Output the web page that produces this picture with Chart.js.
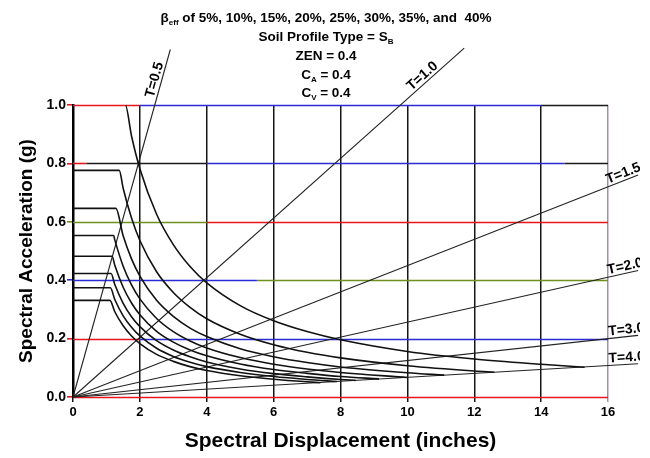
<!DOCTYPE html>
<html>
<head>
<meta charset="utf-8">
<script src="https://cdn.jsdelivr.net/npm/chart.js@4.4.1/dist/chart.umd.min.js"></script>
<style>
  html, body { margin: 0; padding: 0; background: #fff; }
</style>
</head>
<body>
<canvas id="myChart" width="650" height="458"></canvas>
<script>
// demand spectra (ADRS), one curve per effective damping
const dampingLevels = ['5%', '10%', '15%', '20%', '25%', '30%', '35%', '40%'];
const plateauSa = [1.0, 0.776, 0.646, 0.553, 0.482, 0.423, 0.374, 0.331];
const cornerSd = [1.565, 1.383, 1.282, 1.216, 1.170, 1.139, 1.117, 1.105];
const sdGrid = [1.25, 1.5, 1.75, 2, 2.5, 3, 3.5, 4, 5, 6, 7, 8, 10, 12, 14];
const demandSa = [
    [null, null, 0.894, 0.782, 0.626, 0.522, 0.447, 0.391, 0.313, 0.261, 0.224, 0.196, 0.156, 0.130, 0.112],
    [null, 0.715, 0.613, 0.536, 0.429, 0.358, 0.307, 0.268, 0.215, 0.179, 0.153, 0.134, 0.107, 0.089, null],
    [null, 0.552, 0.473, 0.414, 0.331, 0.276, 0.236, 0.207, 0.165, 0.138, 0.118, 0.103, 0.083, null, null],
    [0.538, 0.448, 0.384, 0.336, 0.269, 0.224, 0.192, 0.168, 0.135, 0.112, 0.096, 0.084, null, null, null],
    [0.451, 0.376, 0.322, 0.282, 0.225, 0.188, 0.161, 0.141, 0.113, 0.094, 0.081, 0.070, null, null, null],
    [0.385, 0.321, 0.275, 0.241, 0.193, 0.161, 0.138, 0.120, 0.096, 0.080, 0.069, 0.060, null, null, null],
    [0.334, 0.278, 0.239, 0.209, 0.167, 0.139, 0.119, 0.104, 0.084, 0.070, 0.060, null, null, null, null],
    [0.292, 0.244, 0.209, 0.183, 0.146, 0.122, 0.104, 0.091, 0.073, 0.061, 0.052, null, null, null, null]
];
const endSd = [15.3, 12.6, 11.1, 10.0, 9.15, 8.45, 7.9, 7.4];
const endSa = [0.102, 0.085, 0.075, 0.067, 0.062, 0.057, 0.053, 0.049];

// constant period lines through the origin
const periods = ['T=0.5', 'T=1.0', 'T=1.5', 'T=2.0', 'T=3.0', 'T=4.0'];
const periodEndSd = [2.91, 11.7, 16.9, 16.9, 16.9, 16.9];
const periodEndSa = [1.19, 1.195, 0.76, 0.433, 0.211, 0.114];

const xTicks = [0, 2, 4, 6, 8, 10, 12, 14, 16];
const yTicks = ['0.0', '0.2', '0.4', '0.6', '0.8', '1.0'];

const FONT = "'Liberation Sans', Arial, Helvetica, sans-serif";
Chart.defaults.font.family = FONT;
Chart.defaults.color = '#000';

const RED = '#e8151d', BLUE = '#2b2bd6', OLIVE = '#6f8f1e', DARK = '#1a1a1a';
// coloured horizontal grid lines of the scan: [Sa, fromSd, toSd, colour]
const hGrid = [
    [1.0, 0, 2, RED], [1.0, 2, 14, BLUE], [1.0, 14, 16, DARK],
    [0.8, 0, 0.4, RED], [0.8, 0.4, 4, DARK], [0.8, 4, 14.7, BLUE], [0.8, 14.7, 16, DARK],
    [0.6, 0, 4, OLIVE], [0.6, 4, 16, RED],
    [0.4, 0, 5.5, BLUE], [0.4, 5.5, 16, OLIVE],
    [0.2, 0, 2, RED], [0.2, 2, 16, BLUE],
    [0.0, 0, 16, RED]
];
const yTickColors = [RED, RED, BLUE, OLIVE, RED, RED];

const datasets = [];
for (let i = 0; i < dampingLevels.length; i++) {
    const pts = [{ x: 0, y: plateauSa[i] }, { x: cornerSd[i], y: plateauSa[i] }];
    sdGrid.forEach((sd, j) => {
        if (demandSa[i][j] !== null) pts.push({ x: sd, y: demandSa[i][j] });
    });
    pts.push({ x: endSd[i], y: endSa[i] });
    datasets.push({
        label: 'beff ' + dampingLevels[i],
        data: pts,
        borderColor: '#111',
        borderWidth: 1.6,
        cubicInterpolationMode: 'monotone',
        pointRadius: 0,
        // the 5% plateau lies on the 1.0 grid line
        segment: {
            borderColor: ctx => (i === 0 && ctx.p0DataIndex === 0) ? 'rgba(0,0,0,0)' : undefined
        }
    });
}
for (let k = 0; k < periods.length; k++) {
    datasets.push({
        label: periods[k],
        data: [{ x: 0, y: 0 }, { x: periodEndSd[k], y: periodEndSa[k] }],
        borderColor: '#222',
        borderWidth: 1.1,
        pointRadius: 0,
        clip: false
    });
}

const gridPlugin = {
    id: 'colouredGrid',
    beforeDatasetsDraw(chart) {
        const { ctx, scales: { x, y } } = chart;
        ctx.save();
        ctx.lineWidth = 1.6;
        for (const [sa, a, b, col] of hGrid) {
            const py = Math.round(y.getPixelForValue(sa)) + 0.5;
            ctx.strokeStyle = col;
            ctx.beginPath();
            ctx.moveTo(x.getPixelForValue(a), py);
            ctx.lineTo(x.getPixelForValue(b), py);
            ctx.stroke();
        }
        ctx.restore();
    }
};

const labelPlugin = {
    id: 'periodLabels',
    afterDatasetsDraw(chart) {
        const { ctx, scales: { x, y } } = chart;
        ctx.save();
        ctx.beginPath();
        ctx.rect(0, 0, 640, 458);
        ctx.clip();
        ctx.fillStyle = '#000';
        ctx.font = 'bold 14px ' + FONT;
        ctx.textAlign = 'left';
        ctx.textBaseline = 'alphabetic';
        const labelAtSa = [1.02, 1.04];
        for (let k = 0; k < periods.length; k++) {
            const x0 = x.getPixelForValue(0), y0 = y.getPixelForValue(0);
            const x1 = x.getPixelForValue(periodEndSd[k]), y1 = y.getPixelForValue(periodEndSa[k]);
            const ang = Math.atan2(y1 - y0, x1 - x0);
            let px, py;
            if (k < 2) {
                py = y.getPixelForValue(labelAtSa[k]);
                px = x0 + (py - y0) * (x1 - x0) / (y1 - y0);
            } else {
                px = x.getPixelForValue(16) + 1;
                py = y0 + (px - x0) * (y1 - y0) / (x1 - x0);
            }
            ctx.save();
            ctx.translate(px, py);
            ctx.rotate(ang);
            ctx.fillText(periods[k], 0, -3);
            ctx.restore();
        }
        ctx.restore();
    }
};

// header lines with subscripts
const headerLines = [
    [['\u03B2', ''], ['eff', 'sub'], [' of 5%, 10%, 15%, 20%, 25%, 30%, 35%, and  40%', '']],
    [['Soil Profile Type = S', ''], ['B', 'sub']],
    [['ZEN = 0.4', '']],
    [['C', ''], ['A', 'sub'], [' = 0.4', '']],
    [['C', ''], ['V', 'sub'], [' = 0.4', '']]
];
const headerPlugin = {
    id: 'header',
    afterDraw(chart) {
        const ctx = chart.ctx;
        const main = 'bold 13.5px ' + FONT, sub = 'bold 8px ' + FONT;
        const ys = [22, 41, 60, 79, 97];
        ctx.save();
        ctx.fillStyle = '#000';
        ctx.textBaseline = 'alphabetic';
        ctx.textAlign = 'left';
        headerLines.forEach((parts, li) => {
            let w = 0;
            for (const [t, s] of parts) { ctx.font = s ? sub : main; w += ctx.measureText(t).width; }
            let cx = 326 - w / 2;
            for (const [t, s] of parts) {
                ctx.font = s ? sub : main;
                ctx.fillText(t, cx, ys[li] + (s ? 3 : 0));
                cx += ctx.measureText(t).width;
            }
        });
        ctx.restore();
    }
};

const ctx = document.getElementById('myChart').getContext('2d');
const myChart = new Chart(ctx, {
    type: 'line',
    data: { datasets: datasets },
    options: {
        responsive: false,
        animation: false,
        layout: { padding: { top: 105, right: 42, left: 0, bottom: 0 } },
        plugins: { legend: { display: false }, tooltip: { enabled: false } },
        scales: {
            x: {
                type: 'linear',
                min: 0,
                max: 16,
                afterBuildTicks: s => { s.ticks = xTicks.map(v => ({ value: v })); },
                ticks: { font: { size: 13, weight: 'bold' }, padding: 3, maxRotation: 0 },
                grid: {
                    color: c => (c.index === 8 ? '#9d90a8' : '#161616'),
                    lineWidth: 1.5,
                    tickLength: 5
                },
                border: { display: false },
                title: {
                    display: true,
                    text: 'Spectral Displacement (inches)',
                    font: { size: 21, weight: 'bold' },
                    padding: { top: 0, bottom: 4 }
                },
                afterFit: s => { s.height = 61; }
            },
            y: {
                min: 0,
                max: 1,
                afterBuildTicks: s => { s.ticks = yTicks.map(v => ({ value: parseFloat(v) })); },
                ticks: {
                    font: { size: 14, weight: 'bold' },
                    padding: 1,
                    callback: (v, i) => yTicks[i]
                },
                grid: {
                    drawOnChartArea: false,
                    color: c => yTickColors[c.index],
                    lineWidth: 1.6,
                    tickLength: 6
                },
                border: { color: '#000', width: 2.5 },
                title: {
                    display: true,
                    text: 'Spectral Acceleration (g)',
                    font: { size: 19, weight: 'bold' },
                    padding: { top: 15, bottom: 0 }
                },
                afterFit: s => { s.width = 73; }
            }
        }
    },
    plugins: [gridPlugin, labelPlugin, headerPlugin]
});
</script>
</body>
</html>
